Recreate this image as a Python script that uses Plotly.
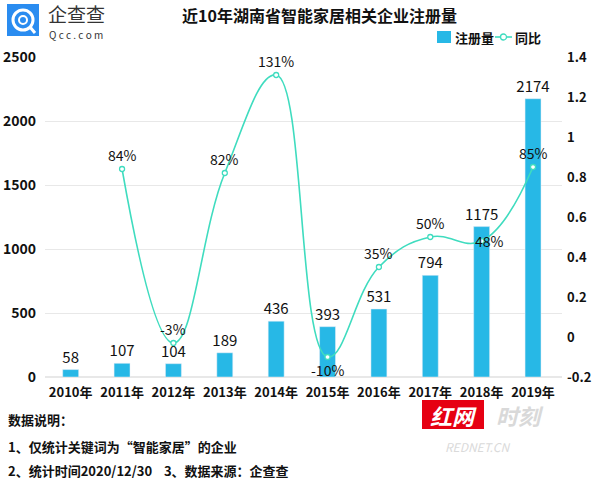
import plotly.graph_objects as go

years = ["2010年", "2011年", "2012年", "2013年", "2014年", "2015年", "2016年", "2017年", "2018年", "2019年"]
registrations = [58, 107, 104, 189, 436, 393, 531, 794, 1175, 2174]
yoy_years = ["2011年", "2012年", "2013年", "2014年", "2015年", "2016年", "2017年", "2018年", "2019年"]
yoy = [0.84, -0.03, 0.82, 1.31, -0.10, 0.35, 0.50, 0.48, 0.85]
yoy_labels = ["84%", "-3%", "82%", "131%", "-10%", "35%", "50%", "48%", "85%"]
left_ticks = [0, 500, 1000, 1500, 2000, 2500]
right_ticks = [-0.2, 0, 0.2, 0.4, 0.6, 0.8, 1.0, 1.2, 1.4]
right_tick_text = ["-0.2", "0", "0.2", "0.4", "0.6", "0.8", "1", "1.2", "1.4"]

FONT = "Noto Sans CJK SC"
BAR_C = "#27b8e6"
LINE_C = "#3fdcbf"

W, H = 600, 481
L, R, T, B = 45, 38, 57, 104
PW, PH = W - L - R, H - T - B


def px(x):
    return (x - L) / PW


def py(y):
    return (H - B - y) / PH


fig = go.Figure()
fig.add_trace(go.Bar(
    x=years, y=registrations, name="注册量", marker_color=BAR_C, width=0.31,
    text=[str(v) for v in registrations], textposition="outside", constraintext="none",
    textfont=dict(family=FONT, size=15, color="#111"), cliponaxis=False,
))
fig.add_trace(go.Scatter(
    x=yoy_years, y=yoy, name="同比", yaxis="y2", mode="lines+markers",
    line=dict(color=LINE_C, width=1.6, shape="spline", smoothing=1.2),
    marker=dict(size=5, color="white", line=dict(color=LINE_C, width=1.3)),
    cliponaxis=False,
))

offsets = {"-10%": (0, -13), "48%": (8, 0)}
for x, y, t in zip(yoy_years, yoy, yoy_labels):
    xs, ys = offsets.get(t, (0, 14))
    fig.add_annotation(x=x, y=y, yref="y2", text=t, showarrow=False,
                       xshift=xs, yshift=ys,
                       font=dict(family=FONT, size=14, color="#111"))

shapes = []
# logo
shapes.append(dict(type="rect", xref="paper", yref="paper", x0=px(7), x1=px(39), y0=py(36), y1=py(4),
                   fillcolor="#2a8cf0", line=dict(width=0), layer="above"))
shapes.append(dict(type="circle", xref="paper", yref="paper", x0=px(13), x1=px(33), y0=py(30), y1=py(10),
                   fillcolor="rgba(0,0,0,0)", line=dict(color="white", width=3), layer="above"))
shapes.append(dict(type="circle", xref="paper", yref="paper", x0=px(19), x1=px(27), y0=py(24), y1=py(16),
                   fillcolor="rgba(0,0,0,0)", line=dict(color="white", width=2), layer="above"))
shapes.append(dict(type="line", xref="paper", yref="paper", x0=px(30), x1=px(35), y0=py(27), y1=py(33),
                   line=dict(color="white", width=3), layer="above"))
# manual legend
shapes.append(dict(type="rect", xref="paper", yref="paper", x0=px(437), x1=px(451), y0=py(43), y1=py(31),
                   fillcolor=BAR_C, line=dict(width=0), layer="above"))
shapes.append(dict(type="line", xref="paper", yref="paper", x0=px(495), x1=px(512), y0=py(37), y1=py(37),
                   line=dict(color=LINE_C, width=1.6), layer="above"))
shapes.append(dict(type="circle", xref="paper", yref="paper", x0=px(500.5), x1=px(506.5), y0=py(40), y1=py(34),
                   fillcolor="white", line=dict(color=LINE_C, width=1.3), layer="above"))
# watermark red box
shapes.append(dict(type="rect", xref="paper", yref="paper", x0=px(422), x1=px(484), y0=py(429), y1=py(400),
                   fillcolor="#e60012", line=dict(width=0), layer="above"))
fig.update_layout(shapes=shapes)


def txt(x, y, text, size, color="#111", weight="bold", xanchor="left", italic=False):
    fig.add_annotation(xref="paper", yref="paper", x=px(x), y=py(y), text=text, showarrow=False,
                       xanchor=xanchor, yanchor="middle",
                       font=dict(family=FONT, size=size, color=color, weight=weight,
                                 style="italic" if italic else "normal"))


txt(319, 15, "近10年湖南省智能家居相关企业注册量", 16, xanchor="center")
txt(46, 13, "企查查", 19, color="#333", weight="normal")
txt(47, 35, "Q c c . c o m", 10, color="#333", weight="normal")
txt(453, 37, "注册量", 13)
txt(513, 37, "同比", 13)
txt(6, 419, "数据说明：", 13)
txt(6, 446, "1、仅统计关键词为“智能家居”的企业", 13)
txt(6, 470, "2、统计时间2020/12/30\u00a0\u00a0\u00a0\u00a03、数据来源：企查查", 13)
txt(453, 415, "红网", 22, color="white", xanchor="center", italic=True)
txt(520, 415, "时刻", 22, color="#d9d9d9", xanchor="center", italic=True)
txt(477, 446, "REDNET.CN", 12, color="#dadada", weight="normal", xanchor="center", italic=True)

fig.update_layout(
    width=W, height=H, margin=dict(l=L, r=R, t=T, b=B, autoexpand=False),
    paper_bgcolor="white", plot_bgcolor="white",
    font=dict(family=FONT, color="#111"),
    showlegend=False,
    bargap=0.5,
    xaxis=dict(showgrid=False, showline=False, ticks="", automargin=False, ticklabelstandoff=6,
               tickfont=dict(family=FONT, size=13, color="#111", weight="bold")),
    yaxis=dict(range=[0, 2500], tickvals=left_ticks, showgrid=True, gridcolor="#e8e8e8", gridwidth=1,
               zeroline=True, zerolinecolor="#e8e8e8", showline=False, ticks="", automargin=False,
               ticklabelstandoff=8,
               tickfont=dict(family=FONT, size=14, color="#111", weight="bold")),
    yaxis2=dict(range=[-0.2, 1.4], overlaying="y", side="right", tickvals=right_ticks,
                ticktext=right_tick_text, showgrid=False, zeroline=False, showline=False, ticks="",
                automargin=False, ticklabelstandoff=4,
                tickfont=dict(family=FONT, size=13, color="#111", weight="bold")),
)

fig.write_html("out.html", config={"displayModeBar": False},
               post_script="document.body.style.margin='0';")
